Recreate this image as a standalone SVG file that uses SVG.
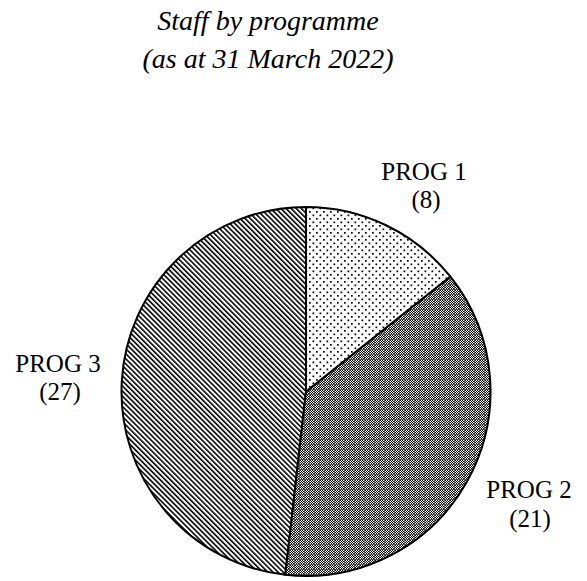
<svg xmlns="http://www.w3.org/2000/svg" width="587" height="581" viewBox="0 0 587 581">
  <style>
    .title { font-family: "Liberation Serif", "Times New Roman", serif; font-style: italic; font-size: 28px; fill: #000; text-anchor: middle; }
    .label { font-family: "Liberation Serif", "Times New Roman", serif; font-size: 25px; fill: #000; text-anchor: middle; }
    .slice { stroke: #000; stroke-width: 2; stroke-linejoin: round; }
  </style>
  <defs>
    <pattern id="dots" patternUnits="userSpaceOnUse" width="7" height="7">
      <rect width="7" height="7" fill="#fff"/>
      <rect x="1" y="1" width="1.7" height="1.7" fill="#000"/>
      <rect x="4.5" y="4.5" width="1.7" height="1.7" fill="#000"/>
    </pattern>
    <pattern id="checks" patternUnits="userSpaceOnUse" width="5" height="5">
      <rect width="5" height="5" fill="#fff"/>
      <rect x="0" y="0" width="1" height="1" fill="#000"/>
      <rect x="2" y="0" width="1" height="1" fill="#000"/>
      <rect x="1" y="1" width="1" height="1" fill="#000"/>
      <rect x="3" y="1" width="1" height="1" fill="#000"/>
      <rect x="0" y="2" width="1" height="1" fill="#000"/>
      <rect x="2" y="2" width="1" height="1" fill="#000"/>
      <rect x="1" y="3" width="1" height="1" fill="#000"/>
      <rect x="3" y="3" width="1" height="1" fill="#000"/>
      <rect x="0" y="4" width="5" height="1" fill="#555"/>
      <rect x="4" y="0" width="1" height="5" fill="#555"/>
    </pattern>
    <pattern id="diag" patternUnits="userSpaceOnUse" width="3.6" height="10" patternTransform="rotate(-45)">
      <rect width="3.6" height="10" fill="#fff"/>
      <rect width="1.6" height="10" fill="#000"/>
    </pattern>
  </defs>

  <g id="title">
    <text class="title" x="268" y="30">Staff by programme</text>
    <text class="title" x="268" y="68">(as at 31 March 2022)</text>
  </g>

  <g id="prog3">
    <path class="slice" fill="url(#diag)" d="M306,391.5 L285.34,574.84 A184.5,184.5 0 0 1 306,207 Z"/>
    <text class="label" x="58" y="372">PROG 3</text>
    <text class="label" x="60" y="400">(27)</text>
  </g>
  <g id="prog2">
    <path class="slice" fill="url(#checks)" d="M306,391.5 L450.24,276.46 A184.5,184.5 0 0 1 285.34,574.84 Z"/>
    <text class="label" x="529" y="498">PROG 2</text>
    <text class="label" x="530" y="527">(21)</text>
  </g>
  <g id="prog1">
    <path class="slice" fill="url(#dots)" d="M306,391.5 L306,207 A184.5,184.5 0 0 1 450.24,276.46 Z"/>
    <text class="label" x="424" y="180">PROG 1</text>
    <text class="label" x="426" y="208">(8)</text>
  </g>
  <g id="connectors"/>
</svg>
